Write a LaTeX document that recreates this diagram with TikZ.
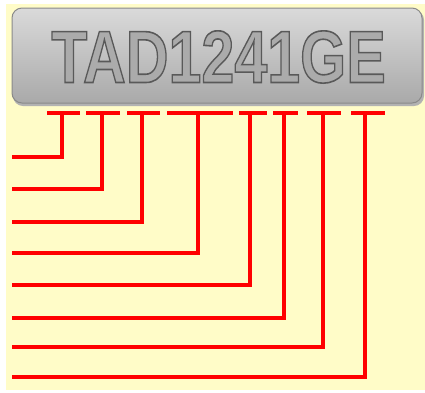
\documentclass[tikz,border=0pt]{standalone}
\usepackage{fontspec}
\setmainfont{Liberation Sans}
\definecolor{bgy}{HTML}{FFFCC8}
\definecolor{plateTop}{HTML}{DADADA}
\definecolor{plateBot}{HTML}{A9A9A9}
\definecolor{plateEdge}{HTML}{8A8A8A}
\tikzset{
  redline/.style={draw=red, line width=4pt},
  platetext/.style={font=\fontsize{74}{74}\bfseries\selectfont, xscale=0.80, inner sep=0pt, anchor=center, transform shape},
}
\newcommand{\embosstext}[1]{\special{pdf:literal direct q 2 Tr 1.6 w 0.35 0.35 0.35 RG 0.67 0.67 0.67 rg}#1\special{pdf:literal direct Q}}
\begin{document}
\begin{tikzpicture}[x=1pt,y=-1pt]
\useasboundingbox (0,0) rectangle (425,392);
\fill[white] (0,0) rectangle (425,392);
\fill[bgy] (6,4) rectangle (425,390);
% plate shadow
\fill[gray!60, rounded corners=10pt] (13,10) rectangle (424,106);
\shade[top color=plateTop, bottom color=plateBot, draw=plateEdge, line width=1pt, rounded corners=10pt]
  (12,8) rectangle (422,103);
% embossed text
\node[platetext] (label) at (218.5,57) {\embosstext{TAD1241GE}};
% bracket coordinates
\foreach \i/\a/\b/\s/\y in {1/47/80/62/157, 2/86/120/102/189, 3/127/160/142/222, 4/167/233/198/253, 5/239/267/250/285, 6/273/298/284/318, 7/307/341/323/347, 8/351/385/365/377}{
  \coordinate (bl\i) at (\a,113);
  \coordinate (br\i) at (\b,113);
  \coordinate (s\i) at (\s,113);
  \coordinate (c\i) at (\s,\y);
  \coordinate (e\i) at (12,\y);
  \draw[redline] (bl\i) -- (br\i);
  \draw[redline, line join=miter] (s\i) -- (c\i) -- (e\i);
}
\end{tikzpicture}
\end{document}
